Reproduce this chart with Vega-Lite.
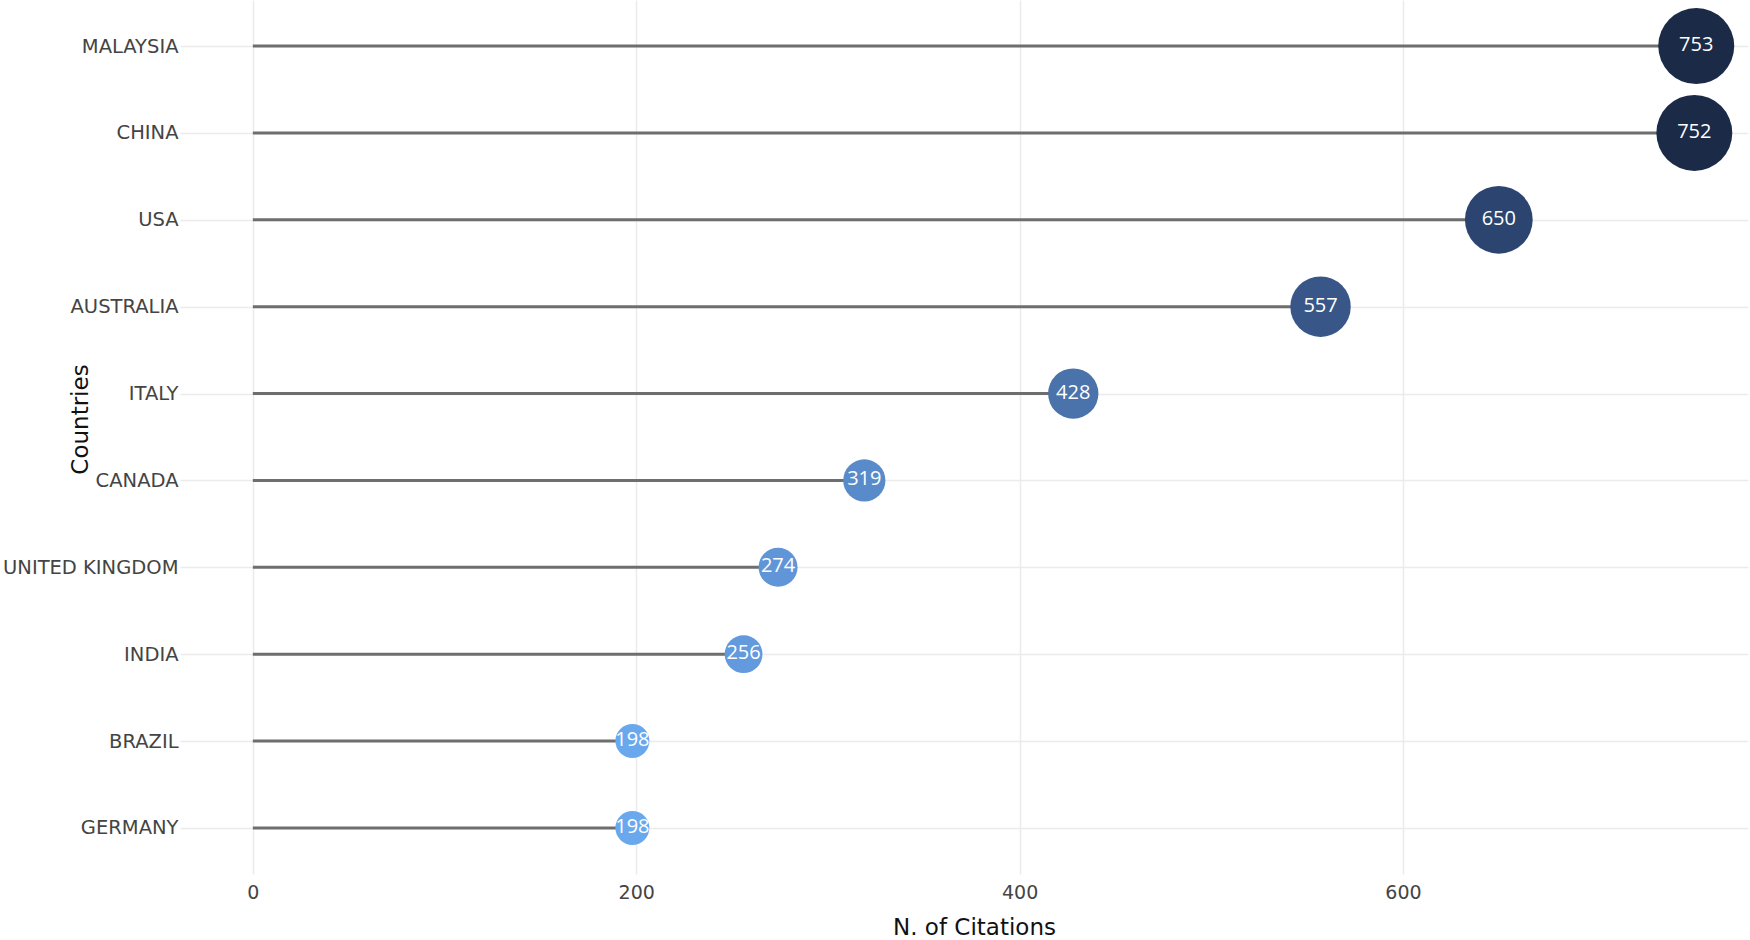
{
  "$schema": "https://vega.github.io/schema/vega-lite/v6.json",
  "autosize": {"type": "none"},
  "padding": {"left": 180, "top": 0, "right": 2, "bottom": 66},
  "width": 1568,
  "height": 874,
  "background": "white",
  "config": {"view": {"stroke": null}},
  "data": {
    "values": [
      {"country": "MALAYSIA", "citations": 753},
      {"country": "CHINA", "citations": 752},
      {"country": "USA", "citations": 650},
      {"country": "AUSTRALIA", "citations": 557},
      {"country": "ITALY", "citations": 428},
      {"country": "CANADA", "citations": 319},
      {"country": "UNITED KINGDOM", "citations": 274},
      {"country": "INDIA", "citations": 256},
      {"country": "BRAZIL", "citations": 198},
      {"country": "GERMANY", "citations": 198}
    ]
  },
  "encoding": {
    "y": {
      "field": "country",
      "type": "nominal",
      "sort": ["MALAYSIA", "CHINA", "USA", "AUSTRALIA", "ITALY", "CANADA", "UNITED KINGDOM", "INDIA", "BRAZIL", "GERMANY"],
      "scale": {"type": "point", "padding": 0.53},
      "axis": {
        "title": "Countries",
        "titleFont": "DejaVu Sans",
        "titleFontSize": 23,
        "titleFontWeight": "normal",
        "titleColor": "#111111",
        "titleX": -100,
        "titleY": 419,
        "titleAngle": 270,
        "titleAlign": "center",
        "titleBaseline": "middle",
        "labelFont": "DejaVu Sans",
        "labelFontSize": 19.5,
        "labelColor": "#444444",
        "labelPadding": 2,
        "domain": false,
        "ticks": false,
        "grid": true,
        "gridColor": "#ebebeb",
        "gridWidth": 1.5
      }
    }
  },
  "layer": [
    {
      "mark": {"type": "rule", "color": "#6e6e6e", "strokeWidth": 3},
      "encoding": {
        "x": {
          "field": "citations",
          "type": "quantitative",
          "scale": {"domain": [-38, 780], "nice": false, "zero": false},
          "axis": {
            "title": "N. of Citations",
            "titleFont": "DejaVu Sans",
            "titleFontSize": 23,
            "titleFontWeight": "normal",
            "titleColor": "#111111",
            "titleX": 794,
            "titleY": 60,
            "titleBaseline": "alphabetic",
            "values": [0, 200, 400, 600],
            "labelFont": "DejaVu Sans",
            "labelFontSize": 19,
            "labelColor": "#444444",
            "labelPadding": 9,
            "domain": false,
            "ticks": false,
            "grid": true,
            "gridColor": "#ebebeb",
            "gridWidth": 1.5
          }
        },
        "x2": {"datum": 0}
      }
    },
    {
      "mark": {"type": "circle", "opacity": 1},
      "encoding": {
        "x": {"field": "citations", "type": "quantitative"},
        "size": {
          "field": "citations",
          "type": "quantitative",
          "scale": {"type": "pow", "exponent": 1.8, "domain": [198, 753], "range": [1156, 5776]},
          "legend": null
        },
        "color": {
          "field": "citations",
          "type": "quantitative",
          "scale": {"domain": [198, 428, 650, 753], "range": ["#6aa8ee", "#4a72ab", "#2b4570", "#1a2a47"]},
          "legend": null
        }
      }
    },
    {
      "mark": {"type": "text", "color": "white", "font": "Open Sans", "fontSize": 20, "align": "center", "baseline": "middle", "dy": -1},
      "encoding": {
        "x": {"field": "citations", "type": "quantitative"},
        "text": {"field": "citations", "type": "quantitative", "format": "d"}
      }
    }
  ]
}
